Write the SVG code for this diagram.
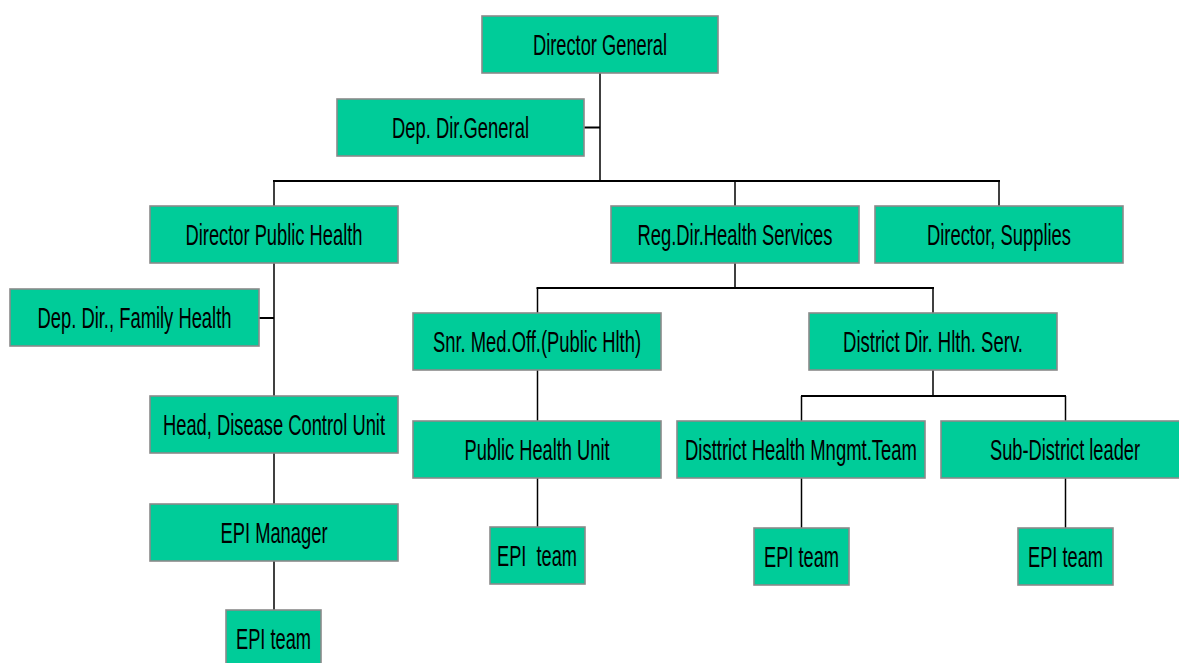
<svg xmlns="http://www.w3.org/2000/svg" width="1179" height="663" viewBox="0 0 1179 663">
<style>
.box{fill:#00CC99;stroke:#8a8a8a;stroke-width:1.6}
.lbl{font-family:"Liberation Sans",Arial,sans-serif;font-size:29px;fill:#000;text-anchor:middle;white-space:pre}
.h{stroke:#000;stroke-width:2;fill:none}
.v{stroke:#000;stroke-width:1.5;fill:none}
</style>
<rect width="1179" height="663" fill="#fff"/>
<g id="connectors">
<line class="v" x1="600" y1="73" x2="600" y2="181"/>
<line class="h" x1="584" y1="127.5" x2="600" y2="127.5"/>
<line class="h" x1="273" y1="181" x2="1000" y2="181"/>
<line class="v" x1="274" y1="181" x2="274" y2="206"/>
<line class="v" x1="735" y1="181" x2="735" y2="206"/>
<line class="v" x1="999" y1="181" x2="999" y2="206"/>
<line class="v" x1="274" y1="263" x2="274" y2="396"/>
<line class="h" x1="259" y1="318" x2="274" y2="318"/>
<line class="v" x1="274" y1="453" x2="274" y2="504"/>
<line class="v" x1="274" y1="561" x2="274" y2="610"/>
<line class="v" x1="735" y1="263" x2="735" y2="288"/>
<line class="h" x1="536.5" y1="288" x2="934" y2="288"/>
<line class="v" x1="537.5" y1="288" x2="537.5" y2="313"/>
<line class="v" x1="933" y1="288" x2="933" y2="313"/>
<line class="v" x1="537.5" y1="370" x2="537.5" y2="421"/>
<line class="v" x1="537.5" y1="478" x2="537.5" y2="527"/>
<line class="v" x1="933" y1="370" x2="933" y2="396"/>
<line class="h" x1="801" y1="396" x2="1066" y2="396"/>
<line class="v" x1="801.5" y1="396" x2="801.5" y2="421"/>
<line class="v" x1="1065.5" y1="396" x2="1065.5" y2="421"/>
<line class="v" x1="801.5" y1="478" x2="801.5" y2="528"/>
<line class="v" x1="1065.5" y1="478" x2="1065.5" y2="528"/>
</g>
<g id="director-general"><rect class="box" x="482" y="16" width="236" height="57"/><text class="lbl" x="600" y="55" textLength="134" lengthAdjust="spacingAndGlyphs">Director General</text></g>
<g id="dep-dir-general"><rect class="box" x="337" y="99" width="247" height="57"/><text class="lbl" x="460.5" y="138" textLength="137" lengthAdjust="spacingAndGlyphs">Dep. Dir.General</text></g>
<g id="director-public-health"><rect class="box" x="150" y="206" width="248" height="57"/><text class="lbl" x="274" y="245" textLength="177" lengthAdjust="spacingAndGlyphs">Director Public Health</text></g>
<g id="reg-dir-health-services"><rect class="box" x="611" y="206" width="248" height="57"/><text class="lbl" x="735" y="245" textLength="195" lengthAdjust="spacingAndGlyphs">Reg.Dir.Health Services</text></g>
<g id="director-supplies"><rect class="box" x="875" y="206" width="248" height="57"/><text class="lbl" x="999" y="245" textLength="144" lengthAdjust="spacingAndGlyphs">Director, Supplies</text></g>
<g id="dep-dir-family-health"><rect class="box" x="10" y="289" width="249" height="57"/><text class="lbl" x="134.5" y="328" textLength="194" lengthAdjust="spacingAndGlyphs">Dep. Dir., Family Health</text></g>
<g id="snr-med-off"><rect class="box" x="413" y="313" width="248" height="57"/><text class="lbl" x="537" y="352" textLength="208" lengthAdjust="spacingAndGlyphs">Snr. Med.Off.(Public Hlth)</text></g>
<g id="district-dir"><rect class="box" x="809" y="313" width="248" height="57"/><text class="lbl" x="933" y="352" textLength="180" lengthAdjust="spacingAndGlyphs">District Dir. Hlth. Serv.</text></g>
<g id="head-disease-control"><rect class="box" x="150" y="396" width="248" height="57"/><text class="lbl" x="274" y="435" textLength="222" lengthAdjust="spacingAndGlyphs">Head, Disease Control Unit</text></g>
<g id="public-health-unit"><rect class="box" x="413" y="421" width="248" height="57"/><text class="lbl" x="537" y="460" textLength="145" lengthAdjust="spacingAndGlyphs">Public Health Unit</text></g>
<g id="district-health-mngmt"><rect class="box" x="677" y="421" width="248" height="57"/><text class="lbl" x="801" y="460" textLength="232" lengthAdjust="spacingAndGlyphs">Disttrict Health Mngmt.Team</text></g>
<g id="sub-district-leader"><rect class="box" x="941" y="421" width="248" height="57"/><text class="lbl" x="1065" y="460" textLength="150" lengthAdjust="spacingAndGlyphs">Sub-District leader</text></g>
<g id="epi-manager"><rect class="box" x="150" y="504" width="248" height="57"/><text class="lbl" x="274" y="543" textLength="107" lengthAdjust="spacingAndGlyphs">EPI Manager</text></g>
<g id="epi-team-1"><rect class="box" x="226" y="610" width="95" height="57"/><text class="lbl" x="273.5" y="649" textLength="75" lengthAdjust="spacingAndGlyphs">EPI team</text></g>
<g id="epi-team-2"><rect class="box" x="490" y="527" width="95" height="57"/><text class="lbl" x="537" y="566" textLength="80" lengthAdjust="spacingAndGlyphs">EPI  team</text></g>
<g id="epi-team-3"><rect class="box" x="754" y="528" width="95" height="57"/><text class="lbl" x="801.5" y="567" textLength="75" lengthAdjust="spacingAndGlyphs">EPI team</text></g>
<g id="epi-team-4"><rect class="box" x="1018" y="528" width="95" height="57"/><text class="lbl" x="1065.5" y="567" textLength="75" lengthAdjust="spacingAndGlyphs">EPI team</text></g>
</svg>
